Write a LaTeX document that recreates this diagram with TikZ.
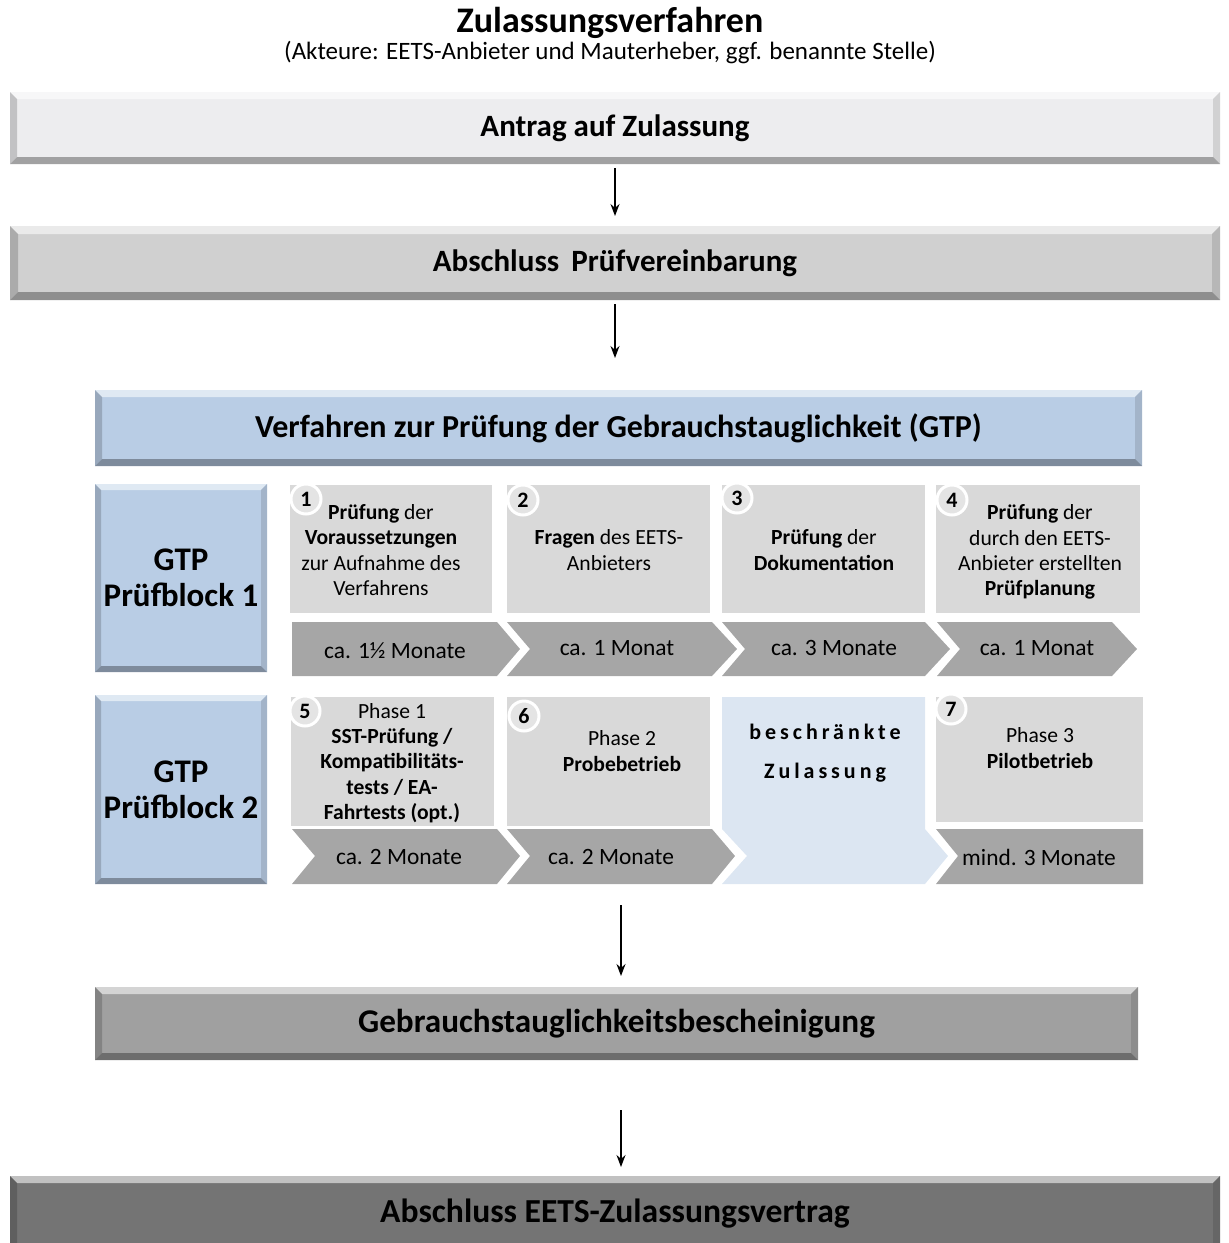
\documentclass[tikz,border=0pt]{standalone}
\usepackage{fontspec}
\setmainfont{Carlito}
\usetikzlibrary{arrows.meta,calc}

\definecolor{antragfarbe}{HTML}{EDEDEF}
\definecolor{vereinbfarbe}{HTML}{D0D0D0}
\definecolor{gtpblau}{HTML}{B9CDE5}
\definecolor{hellblau}{HTML}{DCE6F2}
\definecolor{zellgrau}{HTML}{D9D9D9}
\definecolor{pfeilgrau}{HTML}{A6A6A6}
\definecolor{bescheinfarbe}{HTML}{A0A0A0}
\definecolor{vertragfarbe}{HTML}{747474}

% bevelled edges of a box: node, colour, width
\newcommand{\fase}[3]{%
  \fill[#2!45!white] (#1.north west) -- (#1.north east) -- ([shift={(-#3,#3)}]#1.north east) -- ([shift={(#3,#3)}]#1.north west) -- cycle;
  \fill[#2!82!black] (#1.north west) -- ([shift={(#3,#3)}]#1.north west) -- ([shift={(#3,-#3)}]#1.south west) -- (#1.south west) -- cycle;
  \fill[#2!88!black] (#1.north east) -- ([shift={(-#3,#3)}]#1.north east) -- ([shift={(-#3,-#3)}]#1.south east) -- (#1.south east) -- cycle;
  \fill[#2!68!black] (#1.south west) -- (#1.south east) -- ([shift={(-#3,-#3)}]#1.south east) -- ([shift={(#3,-#3)}]#1.south west) -- cycle;
}

\begin{document}
\begin{tikzpicture}[x=0.5pt,y=-0.5pt,
    hauptbox/.style={inner sep=0pt, outer sep=0pt, font=\bfseries\fontsize{15.5}{18}\selectfont},
    blockbox/.style={hauptbox, fill=gtpblau, minimum width=86pt, minimum height=94pt, align=center, font=\bfseries\fontsize{16.5}{18}\selectfont},
    zelltext/.style={align=center, font=\fontsize{10.8}{12.6}\selectfont},
    dauer/.style={font=\fontsize{11.7}{14}\selectfont},
    nummer/.style={circle, fill=zellgrau!70!white, draw=white, line width=1.5pt, minimum size=15pt, inner sep=0pt, font=\bfseries\fontsize{11}{11}\selectfont},
    pfeil/.style={-{Stealth[length=6pt,width=4.5pt]}, line width=0.7pt}]
    \useasboundingbox (0,0) rectangle (1229,1243);

    % Title
    \node[inner sep=0pt, font=\bfseries\fontsize{18}{22}\selectfont] (titel) at (610,23) {Zulassungsverfahren};
    \node[inner sep=0pt, font=\fontsize{12.5}{15}\selectfont] (akteure) at (610,53) {(Akteure: EETS-Anbieter und Mauterheber, ggf. benannte Stelle)};

    % Main boxes
    \node[hauptbox, fill=antragfarbe, minimum width=605pt, minimum height=36pt] (antrag) at (615,128) {Antrag auf Zulassung};
    \fase{antrag}{antragfarbe}{7}
    \node[hauptbox, fill=vereinbfarbe, minimum width=605pt, minimum height=37pt] (pruefv) at (615,263) {Abschluss\, Prüfvereinbarung};
    \fase{pruefv}{vereinbfarbe}{8}
    \node[hauptbox, fill=gtpblau, minimum width=523.5pt, minimum height=38pt, font=\bfseries\fontsize{16}{18}\selectfont] (verfahren) at (618.5,428) {Verfahren zur Prüfung der Gebrauchstauglichkeit (GTP)};
    \fase{verfahren}{gtpblau}{7}
    \node[blockbox] (block1) at (181,578) {GTP\\Prüfblock 1};
    \fase{block1}{gtpblau}{6}
    \node[blockbox, minimum height=94.5pt] (block2) at (181,789.5) {GTP\\Prüfblock 2};
    \fase{block2}{gtpblau}{6}
    \node[hauptbox, fill=bescheinfarbe, minimum width=521.5pt, minimum height=36.5pt, font=\bfseries\fontsize{16.6}{18}\selectfont] (bescheinigung) at (616.5,1023.5) {Gebrauchstauglichkeitsbescheinigung};
    \fase{bescheinigung}{bescheinfarbe}{7}
    \node[hauptbox, fill=vertragfarbe, minimum width=605pt, minimum height=38pt, font=\bfseries\fontsize{16.8}{18}\selectfont] (vertrag) at (615,1214) {Abschluss EETS-Zulassungsvertrag};
    \fase{vertrag}{vertragfarbe}{7}

    % Cells of block 1
    \fill[zellgrau] (290,485) rectangle (492,613);
    \fill[zellgrau] (507,485) rectangle (710,613);
    \fill[zellgrau] (722,485) rectangle (925,613);
    \fill[zellgrau] (936,485) rectangle (1140,613);
    \node[zelltext] (z1) at (381,550) {\textbf{Prüfung} der\\\textbf{Voraussetzungen}\\zur Aufnahme des\\Verfahrens};
    \node[zelltext] (z2) at (609,550) {\textbf{Fragen} des EETS-\\Anbieters};
    \node[zelltext] (z3) at (824,550) {\textbf{Prüfung} der\\\textbf{Dokumentation}};
    \node[zelltext] (z4) at (1040,552) {\textbf{Prüfung} der\\durch den EETS-\\Anbieter erstellten\\\textbf{Prüfplanung}};

    % Cells of block 2
    \fill[zellgrau] (291,697) rectangle (494,826);
    \fill[zellgrau] (507,697) rectangle (710,826);
    \fill[zellgrau] (936,697) rectangle (1143,822);
    \fill[hellblau] (722,697) -- (925,697) -- (925,829) -- (948,856) -- (925,884) -- (722,884) -- (747,856) -- (722,829) -- cycle;
    \node[zelltext] (z5) at (392,763) {Phase 1\\\textbf{SST-Prüfung /}\\\textbf{Kompatibilitäts-}\\\textbf{tests / EA-}\\\textbf{Fahrtests (opt.)}};
    \node[zelltext] (z6) at (622,751) {Phase 2\\\textbf{Probebetrieb}};
    \node[zelltext] (z7) at (1040,748) {Phase 3\\\textbf{Pilotbetrieb}};
    \node[align=center, font=\bfseries\fontsize{11}{19.5}\selectfont\addfontfeature{LetterSpace=18}] (zulassung) at (825,753) {beschränkte\\Zulassung};

    % Numbers
    \node[nummer] (n1) at (306,499) {1};
    \node[nummer] (n2) at (523,500) {2};
    \node[nummer] (n3) at (737,498) {3};
    \node[nummer] (n4) at (952,500) {4};
    \node[nummer] (n5) at (305,711) {5};
    \node[nummer] (n6) at (524,716) {6};
    \node[nummer] (n7) at (951,709) {7};

    % Chevrons
    \fill[pfeilgrau] (292,622) -- (497,622) -- (520,649) -- (497,676) -- (292,676) -- cycle;
    \foreach \a/\b in {507/712,722/925,937/1112}
        \fill[pfeilgrau] (\a,622) -- (\b,622) -- (\b+25,649) -- (\b,676) -- (\a,676) -- (\a+23,649) -- cycle;
    \foreach \a/\b in {292/497,507/712}
        \fill[pfeilgrau] (\a,829) -- (\b,829) -- (\b+23,856) -- (\b,884) -- (\a,884) -- (\a+23,856) -- cycle;
    \fill[pfeilgrau] (936,829) -- (1143,829) -- (1143,884) -- (936,884) -- (958,856) -- cycle;
    \node[dauer] (d1) at (395,651) {ca. 1½ Monate};
    \node[dauer] (d2) at (617,648) {ca. 1 Monat};
    \node[dauer] (d3) at (834,648) {ca. 3 Monate};
    \node[dauer] (d4) at (1037,648) {ca. 1 Monat};
    \node[dauer] (d5) at (399,857) {ca. 2 Monate};
    \node[dauer] (d6) at (611,857) {ca. 2 Monate};
    \node[dauer] (d7) at (1039,857) {mind. 3 Monate};

    % Arrows
    \coordinate (prueffeld) at (621,884);
    \draw[pfeil, shorten <=2pt, shorten >=5pt] (antrag) -- (pruefv);
    \draw[pfeil, shorten <=2pt, shorten >=16pt] (pruefv.south) -- (pruefv.south |- verfahren.north);
    \draw[pfeil, shorten <=10.5pt, shorten >=5.5pt] (prueffeld) -- (prueffeld |- bescheinigung.north);
    \draw[pfeil, shorten <=25pt, shorten >=4.5pt] (prueffeld |- bescheinigung.south) -- (prueffeld |- vertrag.north);
\end{tikzpicture}
\end{document}
